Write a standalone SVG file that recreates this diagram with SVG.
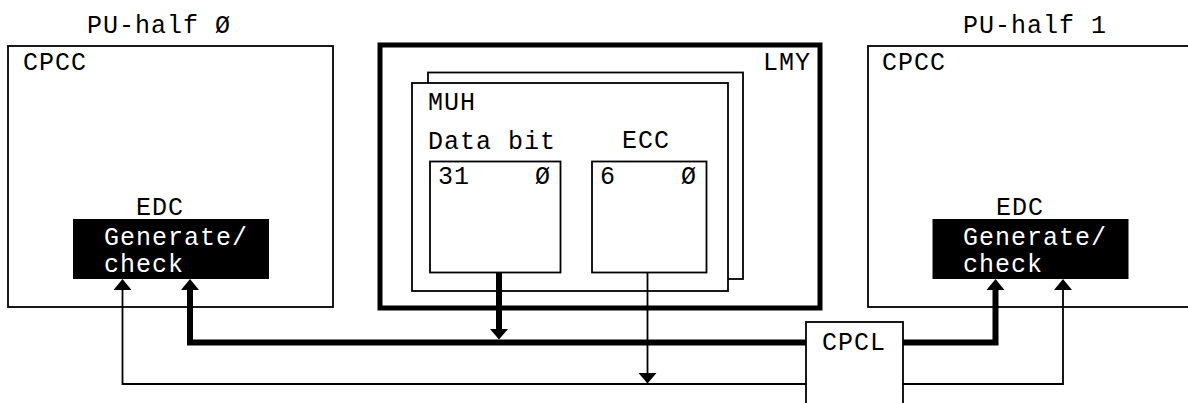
<svg xmlns="http://www.w3.org/2000/svg" width="1188" height="403" viewBox="0 0 1188 403">
<style>
text{font-family:"Liberation Mono","DejaVu Sans Mono",monospace;font-size:25px;letter-spacing:1px;fill:#000}
.box{fill:#fff;stroke:#000;stroke-width:1.8}
.thick{fill:none;stroke:#000;stroke-width:6;stroke-linejoin:miter}
.thin{fill:none;stroke:#000;stroke-width:1.8}
.head{fill:#000;stroke:none}
.inv{fill:#fff}
.blk{fill:#000}
</style>
<rect width="1188" height="403" fill="#fff"/>
<g id="pu0">
<text x="87" y="33">PU-half Ø</text>
<rect class="box" x="8" y="46" width="325" height="261"/>
<text x="23" y="70">CPCC</text>
<text x="136" y="215">EDC</text>
<rect class="blk" x="73" y="219" width="196" height="60"/>
<text class="inv" x="104" y="245">Generate/</text>
<text class="inv" x="104" y="272">check</text>
</g>
<g id="lmy">
<rect x="380" y="45" width="440" height="263" fill="#fff" stroke="#000" stroke-width="5"/>
<text x="763" y="70">LMY</text>
</g>
<g id="muh">
<rect class="box" x="428" y="72.5" width="315" height="206.5"/>
<rect class="box" x="412" y="83" width="316" height="208"/>
<text x="428" y="110">MUH</text>
<text x="428" y="149">Data bit</text>
<text x="622" y="148">ECC</text>
</g>
<g id="databit">
<rect class="box" x="430" y="161.5" width="130.5" height="111"/>
<text x="438" y="184">31</text>
<text x="535" y="184">Ø</text>
</g>
<g id="ecc">
<rect class="box" x="592" y="161.5" width="114.5" height="111"/>
<text x="600" y="184">6</text>
<text x="681" y="184">Ø</text>
</g>
<g id="cpcl">
<rect class="box" x="806" y="322" width="97" height="100"/>
<text x="822" y="350">CPCL</text>
</g>
<g id="pu1">
<text x="963" y="33">PU-half 1</text>
<rect class="box" x="868" y="46" width="340" height="261"/>
<text x="882" y="70">CPCC</text>
<text x="996" y="215">EDC</text>
<rect class="blk" x="932.5" y="219" width="196" height="60"/>
<text class="inv" x="963" y="245">Generate/</text>
<text class="inv" x="963" y="272">check</text>
</g>
<g id="connectors">
<polyline class="thick" points="499,272.5 499,330"/>
<polygon class="head" points="490,329 508,329 499,339.5"/>
<polyline class="thick" points="806,342.5 190,342.5 190,289"/>
<polygon class="head" points="181,290 199,290 190,279"/>
<polyline class="thick" points="903,342.5 995.5,342.5 995.5,289"/>
<polygon class="head" points="986.5,290 1004.5,290 995.5,279"/>
<polyline class="thin" points="806,384 122.5,384 122.5,289"/>
<polygon class="head" points="113.5,290 131.5,290 122.5,279"/>
<polyline class="thin" points="903,384 1063,384 1063,289"/>
<polygon class="head" points="1054,290 1072,290 1063,279"/>
<polyline class="thin" points="647.5,272.5 647.5,374"/>
<polygon class="head" points="638.5,373 656.5,373 647.5,383.5"/>
</g>
</svg>
